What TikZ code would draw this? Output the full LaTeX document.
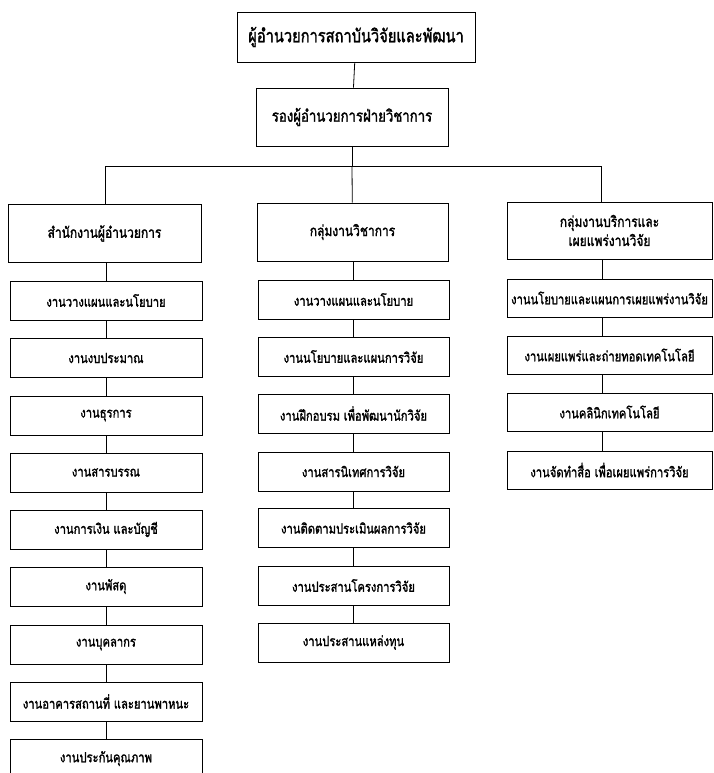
\documentclass[tikz,border=0pt]{standalone}
\usepackage{fontspec}
\newfontfamily\thai[Script=Thai,FakeStretch=0.8,FakeBold=1.6]{Loma}
\begin{document}
\begin{tikzpicture}[x=1pt,y=-1pt,
  box/.style={draw=black,line width=0.8pt,inner sep=0pt,align=center,font=\thai},
  topbox/.style={box,minimum width=238pt,minimum height=50pt,font=\thai\fontsize{18.3}{21}\selectfont},
  depbox/.style={box,minimum width=192pt,minimum height=58pt,font=\thai\fontsize{16.5}{20}\selectfont},
  headbox/.style={box,minimum height=58pt,font=\thai\fontsize{15}{19}\selectfont},
  subbox/.style={box,minimum height=39pt,font=\thai\fontsize{14}{16}\selectfont},
  link/.style={draw=black,line width=0.8pt}]
\useasboundingbox (0,0) rectangle (713,773);
% top
\node[topbox] (top) at (356,37) {ผู้อำนวยการสถาบันวิจัยและพัฒนา};
\node[depbox] (dep) at (352,117) {รองผู้อำนวยการฝ่ายวิชาการ};
% heads
\node[headbox,minimum width=193pt] (lh) at (104.5,233.5) {สำนักงานผู้อำนวยการ};
\node[headbox,minimum width=191pt] (mh) at (352.5,232) {กลุ่มงานวิชาการ};
\node[headbox,minimum width=205pt,minimum height=57pt] (rh) at (609.5,230.5) {กลุ่มงานบริการและ\\เผยแพร่งานวิจัย};
% columns
\coordinate (lx) at (106,0);
\coordinate (mx) at (353,0);
\coordinate (rx) at (602,0);
\coordinate (hl) at (105,166);
\coordinate (hr) at (601,166);
% left column
\foreach \i/\t/\s in {1/281/งานวางแผนและนโยบาย,2/338.5/งานงบประมาณ,3/396/งานธุรการ,4/453/งานสารบรรณ,5/510/งานการเงิน และบัญชี,6/567/งานพัสดุ,7/625/งานบุคลากร,8/682/งานอาคารสถานที่ และยานพาหนะ,9/739/งานประกันคุณภาพ}
  \node[subbox,minimum width=192pt] (l\i) at (106,\t+19.5) {\s};
% middle column
\foreach \i/\t/\s in {1/280/งานวางแผนและนโยบาย,2/337/งานนโยบายและแผนการวิจัย,3/394/งานฝึกอบรม เพื่อพัฒนานักวิจัย,4/452/งานสารนิเทศการวิจัย,5/508.5/งานติดตามประเมินผลการวิจัย,6/566/งานประสานโครงการวิจัย,7/623/งานประสานแหล่งทุน}
  \node[subbox,minimum width=191pt] (m\i) at (353.5,\t+19.5) {\s};
% right column
\foreach \i/\t/\s in {1/279/งานนโยบายและแผนการเผยแพร่งานวิจัย,2/336/งานเผยแพร่และถ่ายทอดเทคโนโลยี,3/393/งานคลินิกเทคโนโลยี,4/451/งานจัดทำสื่อ เพื่อเผยแพร่การวิจัย}
  \node[subbox,minimum width=205pt,minimum height=38pt] (r\i) at (609.5,\t+19) {\s};
% connectors
\path[link] (top) -- (dep);
\path[link] (dep) -- (dep |- hl);
\path[link] (hl) -- (hr);
\path[link] (hl) -- (hl |- lh.north);
\path[link] (dep |- hl) -- (mh);
\path[link] (hr) -- (hr |- rh.north);
\path[link] (lh.south -| lx) -- (l1.north -| lx);
\foreach \a/\b in {1/2,2/3,3/4,4/5,5/6,6/7,7/8,8/9}
  \path[link] (l\a.south -| lx) -- (l\b.north -| lx);
\path[link] (mh.south -| mx) -- (m1.north -| mx);
\foreach \a/\b in {1/2,2/3,3/4,4/5,5/6,6/7}
  \path[link] (m\a.south -| mx) -- (m\b.north -| mx);
\path[link] (rh.south -| rx) -- (r1.north -| rx);
\foreach \a/\b in {1/2,2/3,3/4}
  \path[link] (r\a.south -| rx) -- (r\b.north -| rx);
\end{tikzpicture}
\end{document}
